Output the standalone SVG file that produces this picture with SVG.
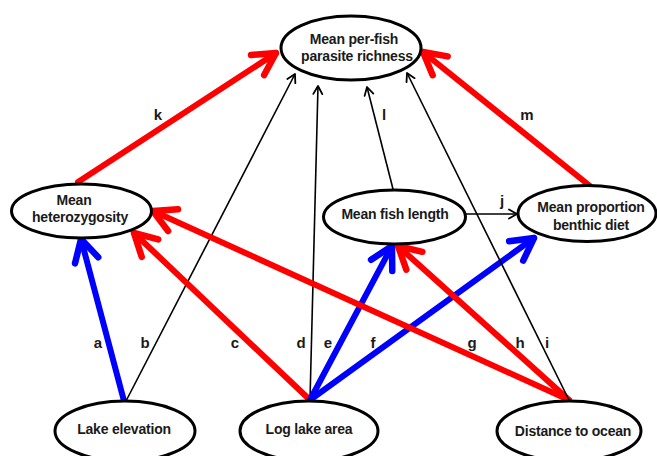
<svg xmlns="http://www.w3.org/2000/svg" width="657" height="456" viewBox="0 0 657 456">
<defs>
<style>
.node ellipse{fill:#fff;stroke:#000;stroke-width:3}
.node text,.lbl{font-family:"Liberation Sans",Arial,sans-serif;font-weight:bold;font-size:14px;letter-spacing:-0.2px;fill:#1a1a1a;text-anchor:middle}
.lbl{font-size:15px;letter-spacing:0}
.red{stroke:#ff0000;stroke-width:6;fill:none;stroke-linecap:round}
.blue{stroke:#0000ff;stroke-width:6;fill:none;stroke-linecap:round}
.blk{stroke:#000;stroke-width:1.6;fill:none}
</style>
<marker id="mr" markerUnits="userSpaceOnUse" markerWidth="50" markerHeight="50" viewBox="-35 -25 50 50" refX="0" refY="0" orient="auto">
<path d="M-22,-12 L0,0 L-22,12" fill="none" stroke="#ff0000" stroke-width="6.5" stroke-linecap="round" stroke-linejoin="round"/>
</marker>
<marker id="mb" markerUnits="userSpaceOnUse" markerWidth="50" markerHeight="50" viewBox="-35 -25 50 50" refX="0" refY="0" orient="auto">
<path d="M-22,-12 L0,0 L-22,12" fill="none" stroke="#0000ff" stroke-width="6.5" stroke-linecap="round" stroke-linejoin="round"/>
</marker>
<marker id="mk" markerUnits="userSpaceOnUse" markerWidth="20" markerHeight="20" viewBox="-12 -10 20 20" refX="0" refY="0" orient="auto">
<path d="M-8,-4.5 L0,0 L-8,4.5" fill="none" stroke="#000" stroke-width="1.8" stroke-linecap="round" stroke-linejoin="round"/>
</marker>
</defs>
<rect width="657" height="456" fill="#fff"/>
<g id="connectors">
<line class="blue" x1="124" y1="401" x2="81" y2="239" marker-end="url(#mb)"/>
<line class="blk" x1="126" y1="401" x2="295" y2="74" marker-end="url(#mk)"/>
<line class="red" x1="310" y1="400" x2="134" y2="233" marker-end="url(#mr)"/>
<line class="blk" x1="310" y1="400" x2="318" y2="86" marker-end="url(#mk)"/>
<line class="blue" x1="310" y1="400" x2="392" y2="246" marker-end="url(#mb)"/>
<line class="blue" x1="310" y1="400" x2="534" y2="238" marker-end="url(#mb)"/>
<line class="red" x1="569" y1="400" x2="153" y2="211" marker-end="url(#mr)"/>
<line class="red" x1="569" y1="400" x2="398" y2="246" marker-end="url(#mr)"/>
<line class="blk" x1="569" y1="400" x2="407" y2="73" marker-end="url(#mk)"/>
<line class="blk" x1="466" y1="214" x2="517" y2="214" marker-end="url(#mk)"/>
<line class="red" x1="78" y1="182" x2="276" y2="53" marker-end="url(#mr)"/>
<line class="blk" x1="393" y1="189" x2="367" y2="87" marker-end="url(#mk)"/>
<line class="red" x1="590" y1="186" x2="423" y2="52" marker-end="url(#mr)"/>
<text class="lbl" x="98" y="348">a</text>
<text class="lbl" x="145" y="348">b</text>
<text class="lbl" x="235" y="348">c</text>
<text class="lbl" x="301" y="348">d</text>
<text class="lbl" x="328" y="348">e</text>
<text class="lbl" x="373" y="348">f</text>
<text class="lbl" x="472" y="348">g</text>
<text class="lbl" x="520" y="348">h</text>
<text class="lbl" x="547" y="348">i</text>
<text class="lbl" x="502" y="206">j</text>
<text class="lbl" x="158" y="120">k</text>
<text class="lbl" x="384" y="120">l</text>
<text class="lbl" x="527" y="120">m</text>
</g>
<g id="richness" class="node">
<ellipse cx="351" cy="48" rx="70" ry="32"/>
<text x="354" y="44">Mean per-fish</text>
<text x="357" y="61">parasite richness</text>
</g>
<g id="heterozygosity" class="node">
<ellipse cx="81.5" cy="211" rx="70" ry="27"/>
<text x="74" y="205">Mean</text>
<text x="80" y="222">heterozygosity</text>
</g>
<g id="fishlength" class="node">
<ellipse cx="394.5" cy="217" rx="71" ry="27"/>
<text x="395" y="219">Mean fish length</text>
</g>
<g id="benthic" class="node">
<ellipse cx="587" cy="213.5" rx="69" ry="28"/>
<text x="591" y="212">Mean proportion</text>
<text x="591" y="230">benthic diet</text>
</g>
<g id="elevation" class="node">
<ellipse cx="125" cy="431" rx="70" ry="30"/>
<text x="124" y="434">Lake elevation</text>
</g>
<g id="lakearea" class="node">
<ellipse cx="309" cy="431" rx="69" ry="30"/>
<text x="309" y="434">Log lake area</text>
</g>
<g id="distance" class="node">
<ellipse cx="569" cy="431" rx="72" ry="30"/>
<text x="573" y="436">Distance to ocean</text>
</g>
</svg>
